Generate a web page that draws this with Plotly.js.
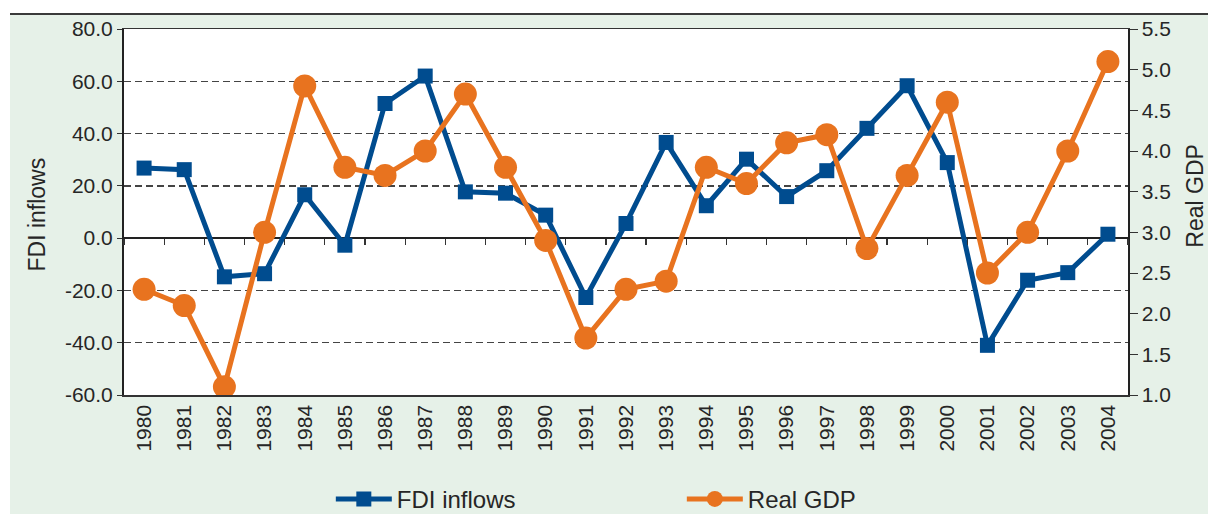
<!DOCTYPE html>
<html>
<head>
<meta charset="utf-8">
<script src="https://cdn.plot.ly/plotly-3.0.1.min.js"></script>
<style>
  html, body { margin: 0; padding: 0; background: #ffffff; }
  #wrap { position: absolute; left: 10px; top: 13px; width: 1198px; height: 501px;
          border-top: 2px solid #3a3a3a; background: #e6f1e8; }
  #chart { width: 1198px; height: 499px; }
</style>
</head>
<body>
<div id="wrap"><div id="chart"></div></div>
<script>
// years on the x axis
var years = ['1980','1981','1982','1983','1984','1985','1986','1987','1988','1989',
             '1990','1991','1992','1993','1994','1995','1996','1997','1998','1999',
             '2000','2001','2002','2003','2004'];

// FDI inflows (left axis)
var fdi = [26.8, 26.2, -14.8, -13.6, 16.6, -2.7, 51.5, 62.0, 17.7, 17.2,
           8.8, -22.7, 5.6, 36.6, 12.4, 30.2, 15.9, 25.8, 42.0, 58.3,
           28.9, -41.0, -16.1, -13.2, 1.5];

// Real GDP (right axis)
var gdp = [2.3, 2.1, 1.1, 3.0, 4.8, 3.8, 3.7, 4.0, 4.7, 3.8,
           2.9, 1.7, 2.3, 2.4, 3.8, 3.6, 4.1, 4.2, 2.8, 3.7,
           4.6, 2.5, 3.0, 4.0, 5.1];

// left axis ticks (plain hyphen as minus, like the original)
var fdiTicks = [-60, -40, -20, 0, 20, 40, 60, 80];
var fdiTickText = ['-60.0', '-40.0', '-20.0', '0.0', '20.0', '40.0', '60.0', '80.0'];

var blue = '#004c8f';
var orange = '#e8731f';
var txt = '#262626';
var fnt = 'Liberation Sans, Arial, sans-serif';

var traceFdi = {
  x: years, y: fdi,
  type: 'scatter', mode: 'lines+markers',
  name: 'FDI inflows',
  xaxis: 'x', yaxis: 'y',
  line: {color: blue, width: 5},
  marker: {symbol: 'square', size: 15, color: blue}
};

var traceGdp = {
  x: years, y: gdp,
  type: 'scatter', mode: 'lines+markers',
  name: 'Real GDP',
  xaxis: 'x2', yaxis: 'y2',
  line: {color: orange, width: 5},
  marker: {symbol: 'circle', size: 23, color: orange}
};

var layout = {
  width: 1198, height: 499,
  paper_bgcolor: '#e6f1e8',
  plot_bgcolor: '#ffffff',
  margin: {l: 114, r: 80, t: 14, b: 119, autoexpand: false},
  font: {family: fnt, size: 21, color: txt},
  showlegend: true,
  legend: {
    orientation: 'h', x: 0.206, y: -0.285, xanchor: 'left', yanchor: 'middle',
    bgcolor: 'rgba(0,0,0,0)', font: {size: 24, color: txt},
    entrywidth: 280, entrywidthmode: 'pixels', itemwidth: 56
  },
  xaxis: {
    type: 'category', range: [-0.5, 24.5],
    tickangle: -90, ticks: '', ticklen: 0,
    tickfont: {size: 21, color: txt},
    showline: true, linecolor: '#333', linewidth: 1.5, mirror: true,
    showgrid: false, zeroline: false
  },
  xaxis2: {
    type: 'category', matches: 'x', overlaying: 'x',
    anchor: 'free', position: 60 / 140,
    showticklabels: false, ticks: 'outside', ticklen: 6, tickwidth: 1.2,
    tickcolor: '#333', tickson: 'boundaries',
    showline: false, showgrid: false, zeroline: false
  },
  yaxis: {
    range: [-60, 80], tickvals: fdiTicks, ticktext: fdiTickText,
    tickfont: {size: 21, color: txt},
    ticks: 'outside', ticklen: 5, tickcolor: '#333',
    showline: true, linecolor: '#222', linewidth: 2,
    showgrid: true, gridcolor: '#444', gridwidth: 1.4, griddash: '7px,4px',
    zeroline: true, zerolinecolor: '#222', zerolinewidth: 1.8
  },
  yaxis2: {
    range: [1, 5.5], dtick: 0.5, tickformat: '.1f',
    overlaying: 'y', side: 'right', anchor: 'x',
    tickfont: {size: 21, color: txt},
    ticks: 'outside', ticklen: 8, tickcolor: '#333',
    showline: true, linecolor: '#222', linewidth: 1.5,
    showgrid: false, zeroline: false
  },
  // axis titles placed by hand, the original sets them off-centre
  annotations: [
    {text: 'FDI inflows', xref: 'paper', yref: 'paper', x: -0.0867, y: 0.493,
     xanchor: 'center', yanchor: 'middle', textangle: -90, showarrow: false,
     font: {size: 23, color: txt}},
    {text: 'Real GDP', xref: 'paper', yref: 'paper', x: 1.0665, y: 0.544,
     xanchor: 'center', yanchor: 'middle', textangle: -90, showarrow: false,
     font: {size: 23, color: txt}}
  ]
};

Plotly.newPlot('chart', [traceFdi, traceGdp], layout, {staticPlot: true});
</script>
</body>
</html>
